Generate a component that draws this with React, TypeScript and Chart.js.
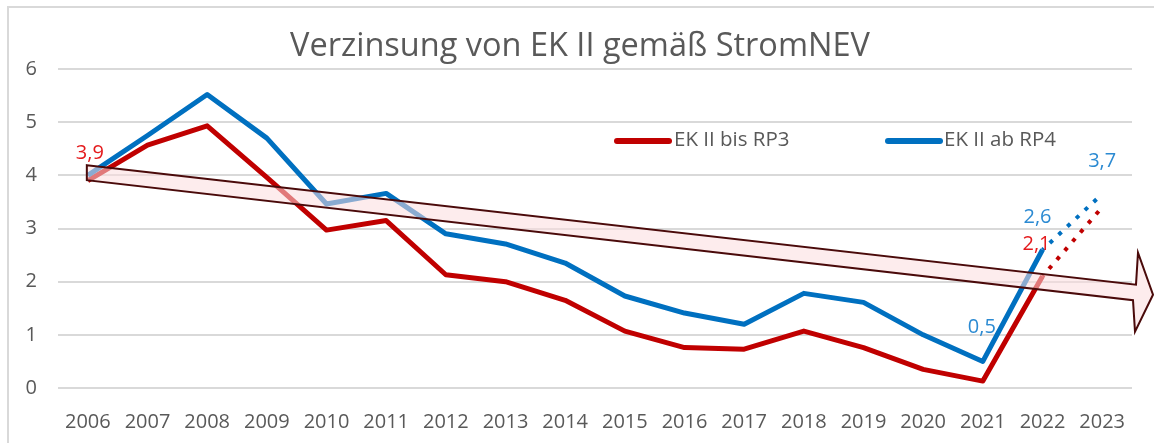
import React, { useEffect, useRef } from "react";
import { Chart, registerables } from "chart.js";

Chart.register(...registerables);

const years = ["2006","2007","2008","2009","2010","2011","2012","2013","2014","2015","2016","2017","2018","2019","2020","2021","2022","2023"];
const redValues = [3.9, 4.57, 4.93, 3.96, 2.97, 3.15, 2.13, 2.0, 1.65, 1.07, 0.76, 0.73, 1.07, 0.76, 0.35, 0.13, 2.1, null];
const blueValues = [4.0, 4.75, 5.52, 4.7, 3.46, 3.66, 2.9, 2.71, 2.35, 1.73, 1.41, 1.2, 1.78, 1.61, 1.0, 0.5, 2.6, null];
const redProjection = [null, null, null, null, null, null, null, null, null, null, null, null, null, null, null, null, 2.1, 3.4];
const blueProjection = [null, null, null, null, null, null, null, null, null, null, null, null, null, null, null, null, 2.6, 3.65];
const yTicks = [0, 1, 2, 3, 4, 5, 6];
const seriesNames = ["EK II bis RP3", "EK II ab RP4"];
const titleText = "Verzinsung von EK II gemäß StromNEV";
const arrowStartValue = 4.05;

// labels: [datasetIndex, pointIndex, text]
const pointLabels: [number, number, string][] = [
  [0, 0, "3,9"],
  [0, 16, "2,1"],
  [1, 16, "2,6"],
  [1, 15, "0,5"],
  [3, 17, "3,7"],
];

const RED = "#c00000";
const BLUE = "#0070c0";
const RED_LABEL = "#e41a1c";
const BLUE_LABEL = "#2b8ad2";
const GRAY_TEXT = "#595959";
const FONT = "'Open Sans', sans-serif";

const decorPlugin = {
  id: "decor",
  beforeDraw(chart: any) {
    const ctx = chart.ctx;
    ctx.save();
    ctx.fillStyle = "#ffffff";
    ctx.fillRect(0, 0, chart.width, chart.height);
    ctx.strokeStyle = "#d9d9d9";
    ctx.lineWidth = 2;
    ctx.beginPath();
    ctx.moveTo(8, chart.height);
    ctx.lineTo(8, 7);
    ctx.lineTo(chart.width, 7);
    ctx.stroke();
    // title
    ctx.fillStyle = GRAY_TEXT;
    ctx.font = `32.5px ${FONT}`;
    ctx.textAlign = "center";
    ctx.textBaseline = "middle";
    ctx.fillText(titleText, 580, 47);
    ctx.restore();
  },
  afterDatasetsDraw(chart: any) {
    const ctx = chart.ctx;
    const xs = chart.scales.x;
    const ys = chart.scales.y;
    const x0 = xs.getPixelForValue(0) - 1;
    const y0 = ys.getPixelForValue(arrowStartValue);
    const W = chart.width;
    // arrow
    ctx.save();
    ctx.beginPath();
    ctx.moveTo(x0, y0 - 7.5);
    ctx.lineTo(W - 18, y0 + 112);
    ctx.lineTo(W - 16, y0 + 80);
    ctx.lineTo(W - 1, y0 + 122);
    ctx.lineTo(W - 19, y0 + 159);
    ctx.lineTo(W - 21, y0 + 127.5);
    ctx.lineTo(x0, y0 + 7.5);
    ctx.closePath();
    ctx.fillStyle = "rgba(252, 220, 222, 0.55)";
    ctx.fill();
    ctx.strokeStyle = "#4a0a0a";
    ctx.lineWidth = 2;
    ctx.lineJoin = "miter";
    ctx.stroke();
    ctx.restore();

    // legend
    ctx.save();
    ctx.lineCap = "round";
    ctx.lineWidth = 6;
    ctx.strokeStyle = RED;
    ctx.beginPath();
    ctx.moveTo(617, 141);
    ctx.lineTo(669, 141);
    ctx.stroke();
    ctx.strokeStyle = BLUE;
    ctx.beginPath();
    ctx.moveTo(888, 141);
    ctx.lineTo(940, 141);
    ctx.stroke();
    ctx.fillStyle = GRAY_TEXT;
    ctx.font = `20.5px ${FONT}`;
    ctx.textAlign = "left";
    ctx.textBaseline = "middle";
    ctx.fillText(seriesNames[0], 674, 140);
    ctx.fillText(seriesNames[1], 944, 140);
    ctx.restore();

    // point labels
    ctx.save();
    ctx.font = `20px ${FONT}`;
    ctx.textBaseline = "middle";
    ctx.textAlign = "center";
    const offsets: Record<string, [number, number]> = {
      "0-0": [2, -27],
      "0-16": [-6, -32],
      "1-16": [-5, -32],
      "1-15": [-1, -34],
      "3-17": [0, -33],
    };
    for (const [di, pi, text] of pointLabels) {
      const meta = chart.getDatasetMeta(di);
      const el = meta.data[pi];
      if (!el) continue;
      const off = offsets[`${di}-${pi}`] || [0, -20];
      ctx.fillStyle = di === 0 || di === 2 ? RED_LABEL : BLUE_LABEL;
      ctx.fillText(text, el.x + off[0], el.y + off[1]);
    }
    ctx.restore();
  },
};

export default function App() {
  const ref = useRef<HTMLCanvasElement | null>(null);
  useEffect(() => {
    if (!ref.current) return;
    const chart = new Chart(ref.current, {
      type: "line",
      data: {
        labels: years,
        datasets: [
          { label: seriesNames[0], data: redValues, borderColor: RED, borderWidth: 5, pointRadius: 0, tension: 0, borderJoinStyle: "round", order: 2 },
          { label: seriesNames[1], data: blueValues, borderColor: BLUE, borderWidth: 5, pointRadius: 0, tension: 0, borderJoinStyle: "round", order: 1 },
          { label: "p1", data: redProjection, borderColor: RED, borderWidth: 4, borderDash: [4, 8], borderDashOffset: -10, pointRadius: 0, tension: 0 },
          { label: "p2", data: blueProjection, borderColor: BLUE, borderWidth: 4, borderDash: [4, 8], borderDashOffset: -10, pointRadius: 0, tension: 0 },
        ],
      },
      options: {
        animation: false,
        responsive: false,
        maintainAspectRatio: false,
        layout: { padding: { left: 0, right: 22, top: 69, bottom: 0 } },
        plugins: { legend: { display: false }, title: { display: false }, tooltip: { enabled: false } },
        scales: {
          x: {
            type: "category",
            offset: true,
            grid: { display: false },
            border: { display: false },
            ticks: { color: GRAY_TEXT, font: { family: FONT, size: 20 }, padding: 14, maxRotation: 0, autoSkip: false },
            afterFit: (s: any) => { s.height = 55; },
          },
          y: {
            min: 0,
            max: 6,
            afterBuildTicks: (s: any) => { s.ticks = yTicks.map((v) => ({ value: v })); },
            grid: { color: "#d9d9d9", lineWidth: 2, drawTicks: false },
            border: { display: false },
            ticks: { color: GRAY_TEXT, font: { family: FONT, size: 20 }, padding: 21 },
            afterFit: (s: any) => { s.width = 58; },
          },
        },
      },
      plugins: [decorPlugin],
    } as any);
    return () => chart.destroy();
  }, []);
  return (
    <div style={{ position: "fixed", left: 0, top: 0, width: 1154, height: 443 }}>
      <canvas ref={ref} width={1154} height={443} style={{ display: "block" }} />
    </div>
  );
}
